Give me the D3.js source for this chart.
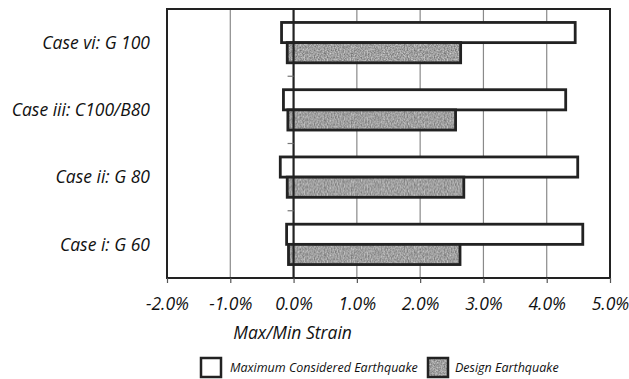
<!DOCTYPE html>
<html>
<head>
<meta charset="utf-8">
<script src="https://cdn.jsdelivr.net/npm/d3@7"></script>
<style>
  html, body { margin: 0; padding: 0; background: #fff; }
  svg { display: block; }
  text { font-family: "Open Sans", "DejaVu Sans", sans-serif; font-style: italic; fill: #111; }
</style>
</head>
<body>
<svg id="chart" width="629" height="379"></svg>
<script>
// Load cases, listed top to bottom
const cases = ["Case vi: G 100", "Case iii: C100/B80", "Case ii: G 80", "Case i: G 60"];
const seriesNames = ["Maximum Considered Earthquake", "Design Earthquake"];

// Minimum and maximum strain (%) per case, same order as cases
const mceMin = [-0.19, -0.16, -0.21, -0.11];
const mceMax = [4.45, 4.30, 4.49, 4.57];
const deMin = [-0.10, -0.09, -0.10, -0.08];
const deMax = [2.64, 2.56, 2.69, 2.63];

const xTicks = [-2, -1, 0, 1, 2, 3, 4, 5];
const xTitle = "Max/Min Strain";

const svg = d3.select("#chart");
const plot = { left: 167, right: 610, top: 9, bottom: 278 };

const x = d3.scaleLinear().domain([-2, 5]).range([plot.left, plot.right]);
const y0 = d3.scaleBand().domain(cases).range([plot.top, plot.bottom]).padding(0);
const y1 = d3.scaleBand().domain(seriesNames)
  .range([y0.bandwidth() * 0.2, y0.bandwidth() * 0.8]).padding(0);

// Grainy grey fill for the design earthquake bars
const defs = svg.append("defs");
const f = defs.append("filter").attr("id", "grain")
  .attr("color-interpolation-filters", "sRGB")
  .attr("x", 0).attr("y", 0).attr("width", 1).attr("height", 1);
f.append("feTurbulence").attr("type", "fractalNoise")
  .attr("baseFrequency", 0.7).attr("numOctaves", 2).attr("seed", 3).attr("result", "t");
f.append("feColorMatrix").attr("in", "t").attr("type", "matrix")
  .attr("values", "0.55 0 0 0 0.35  0.55 0 0 0 0.35  0.55 0 0 0 0.35  0 0 0 0 1");
const pat = defs.append("pattern").attr("id", "grey")
  .attr("patternUnits", "userSpaceOnUse").attr("width", 120).attr("height", 120);
pat.append("rect").attr("width", 120).attr("height", 120).attr("fill", "#a0a0a0")
  .attr("filter", "url(#grain)");

const rows = cases.map((c, i) => ({
  name: c,
  bars: [
    { s: seriesNames[0], lo: mceMin[i], hi: mceMax[i], fill: "#ffffff" },
    { s: seriesNames[1], lo: deMin[i], hi: deMax[i], fill: "url(#grey)" }
  ]
}));

// Vertical gridlines
svg.append("g").selectAll("line")
  .data(xTicks.filter(t => t !== -2 && t !== 5 && t !== 0))
  .join("line")
  .attr("x1", d => x(d)).attr("x2", d => x(d))
  .attr("y1", plot.top).attr("y2", plot.bottom)
  .attr("stroke", "#8a8a8a").attr("stroke-width", 1.2);

// Bars
const g = svg.append("g").selectAll("g").data(rows).join("g")
  .attr("transform", d => `translate(0,${y0(d.name)})`);
g.selectAll("rect").data(d => d.bars).join("rect")
  .attr("x", d => x(d.lo))
  .attr("y", d => y1(d.s))
  .attr("width", d => x(d.hi) - x(d.lo))
  .attr("height", y1.bandwidth())
  .attr("fill", d => d.fill)
  .attr("stroke", "#222").attr("stroke-width", 2.8);

// Category axis at zero strain
svg.append("line")
  .attr("x1", x(0)).attr("x2", x(0)).attr("y1", plot.top).attr("y2", plot.bottom)
  .attr("stroke", "#222").attr("stroke-width", 2.2);
svg.append("g").selectAll("line").data(cases.slice(1)).join("line")
  .attr("x1", x(0) - 6).attr("x2", x(0))
  .attr("y1", d => y0(d)).attr("y2", d => y0(d))
  .attr("stroke", "#777").attr("stroke-width", 1.2);

// Plot frame
svg.append("rect")
  .attr("x", plot.left).attr("y", plot.top)
  .attr("width", plot.right - plot.left).attr("height", plot.bottom - plot.top)
  .attr("fill", "none").attr("stroke", "#222").attr("stroke-width", 2);

// Strain axis
const xAxis = d3.axisBottom(x).tickValues(xTicks)
  .tickFormat(d => d.toFixed(1) + "%").tickSize(5).tickPadding(15);
const ax = svg.append("g").attr("transform", `translate(0,${plot.bottom})`).call(xAxis);
ax.select(".domain").remove();
ax.selectAll(".tick line").attr("stroke", "#555").attr("stroke-width", 1.2);
ax.selectAll(".tick text").attr("font-size", 17.5)
  .style("font-family", "'Open Sans', sans-serif").style("font-style", "italic").attr("fill", "#111");

// Case labels
svg.append("g").selectAll("text").data(cases).join("text")
  .attr("x", 150)
  .attr("y", d => y0(d) + y0.bandwidth() / 2)
  .attr("dy", "0.35em")
  .attr("text-anchor", "end")
  .attr("font-size", 17.5)
  .text(d => d);

// Axis title
svg.append("text")
  .attr("x", x(0) - 1).attr("y", 339)
  .attr("text-anchor", "middle").attr("font-size", 17.5)
  .text(xTitle);

// Legend
const legend = [
  { name: seriesNames[0], fill: "#ffffff", bx: 201, tx: 230 },
  { name: seriesNames[1], fill: "url(#grey)", bx: 428, tx: 455 }
];
const lg = svg.append("g").selectAll("g").data(legend).join("g");
lg.append("rect")
  .attr("x", d => d.bx).attr("y", 358).attr("width", 20).attr("height", 19)
  .attr("fill", d => d.fill).attr("stroke", "#222").attr("stroke-width", 2.5);
lg.append("text")
  .attr("x", d => d.tx).attr("y", 367.5).attr("dy", "0.35em")
  .attr("font-size", 12.5)
  .text(d => d.name);
</script>
</body>
</html>
